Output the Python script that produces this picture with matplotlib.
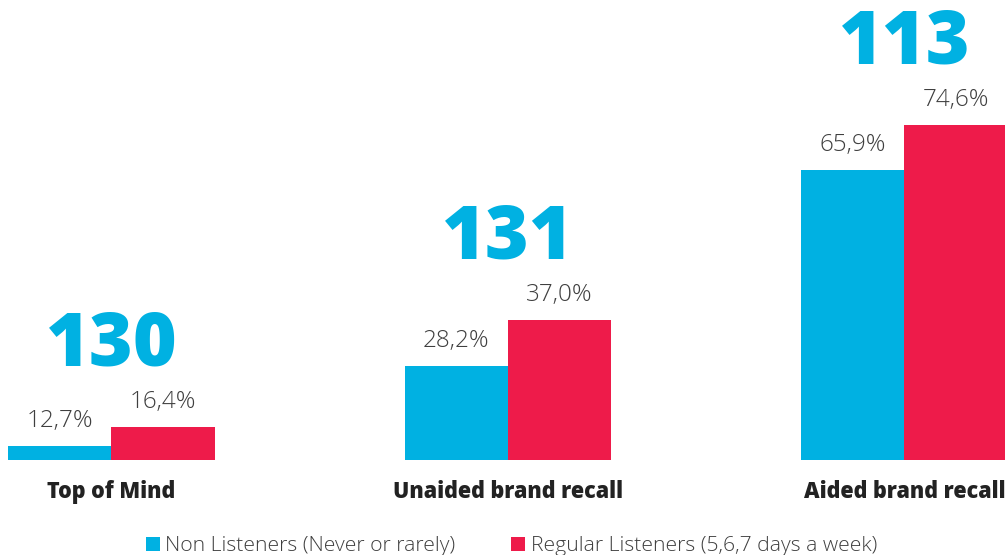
import matplotlib
matplotlib.use("Agg")
import matplotlib.pyplot as plt
from matplotlib.patches import Rectangle
import numpy as np

plt.rcParams['font.family'] = ['Open Sans', 'DejaVu Sans']

categories = ["Top of Mind", "Unaided brand recall", "Aided brand recall"]
non_listeners = [12.7, 28.2, 65.9]
regular_listeners = [16.4, 37.0, 74.6]
index_values = [130, 131, 113]
series_names = ["Non Listeners (Never or rarely)",
                "Regular Listeners (5,6,7 days a week)"]

BLUE = "#00B1E2"
RED = "#EE1B4A"
LABEL_GRAY = "#3f3f3f"
DARK = "#222222"

W, H = 1005, 555
fig = plt.figure(figsize=(W / 100, H / 100), dpi=100)

# axes area in pixels: left 8, right 1005, baseline at y=460 from top
ax = fig.add_axes([8 / W, (H - 460) / H, 997 / W, 460 / H])
ax.set_axis_off()

bw = 0.261
x = np.arange(len(categories))
ax.bar(x - bw / 2, non_listeners, width=bw, color=BLUE, linewidth=0)
ax.bar(x + bw / 2, regular_listeners, width=bw, color=RED, linewidth=0)
ax.set_xlim(-bw, -bw + 997 / 396.5)
ax.set_ylim(10, 10 + 460 / 5.19)


def fmt(v):
    return f"{v:.1f}%".replace(".", ",")


for i in range(len(categories)):
    for xpos, v in ((x[i] - bw / 2, non_listeners[i]), (x[i] + bw / 2, regular_listeners[i])):
        ax.annotate(fmt(v), xy=(xpos, v), xytext=(0, 13.5), textcoords="offset points",
                    ha="center", va="baseline", fontsize=17.5, color=LABEL_GRAY,
                    fontweight="light")
    # index number above each pair
    ax.annotate(str(index_values[i]), xy=(x[i], regular_listeners[i]),
                xytext=(0, 44), textcoords="offset points",
                ha="center", va="baseline", fontsize=54, color=BLUE,
                fontweight="heavy")
    # category label under the baseline
    ax.annotate(categories[i], xy=(x[i], 10), xytext=(0, -27.5),
                textcoords="offset points", ha="center", va="baseline",
                fontsize=15.5, color=DARK, fontweight="heavy")

# legend drawn as square swatches and text in figure pixels
legend_items = [(146, 165, BLUE, series_names[0]), (511, 531, RED, series_names[1])]
for sq_x, tx, col, name in legend_items:
    fig.patches.append(Rectangle((sq_x / W, (H - 551) / H), 14 / W, 14 / H,
                                 transform=fig.transFigure, facecolor=col,
                                 edgecolor="none", figure=fig))
    fig.text(tx / W, (H - 551) / H, name, ha="left", va="baseline",
             fontsize=15.25, color=LABEL_GRAY, fontweight="light")

fig.savefig("out.png", dpi=100, facecolor="white")
